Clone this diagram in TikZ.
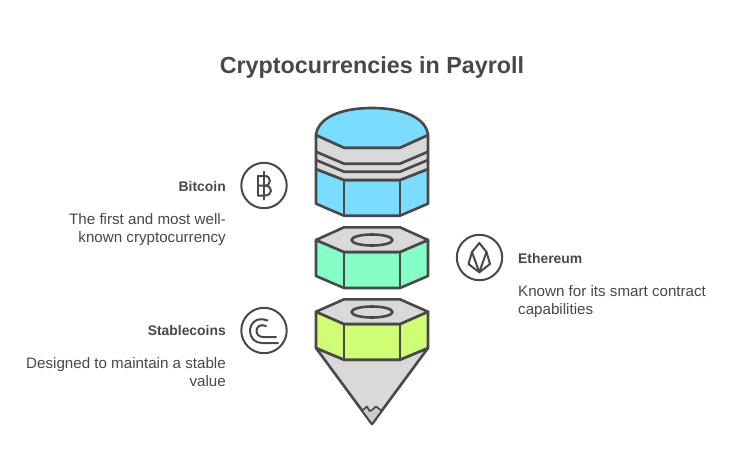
\documentclass[tikz,border=0pt]{standalone}
\usepackage{fontspec}
\setmainfont{Liberation Sans}
\definecolor{ink}{HTML}{484848}
\definecolor{blueF}{HTML}{7ADCFF}
\definecolor{mintF}{HTML}{84FDC6}
\definecolor{limeF}{HTML}{CFFD74}
\definecolor{grayF}{HTML}{D9D9D9}
\tikzset{
 part/.style={draw=ink,line width=2.6pt,line join=round},
 icon/.style={draw=ink,line width=2pt,line cap=round,line join=round},
 head/.style={font=\fontsize{13.9}{17}\selectfont\bfseries,text=ink,inner sep=0pt},
 body/.style={font=\fontsize{15.15}{18}\selectfont,text=ink,inner sep=0pt},
 ttl/.style={font=\fontsize{23.3}{28}\selectfont\bfseries,text=ink,inner sep=0pt}
}
\begin{document}
\begin{tikzpicture}[x=1pt,y=-1pt]
\useasboundingbox (0,0) rectangle (744,472);
\fill[white] (0,0) rectangle (744,472);
\node[ttl] (title) at (372,67) {Cryptocurrencies in Payroll};
% top cylinder
\path[part,fill=blueF] (316,169) -- (344,180) -- (400,180) -- (428,169) -- (428,203.7) -- (400,215.7) -- (344,215.7) -- (316,203.7) -- cycle;
\draw[part] (344,180) -- (344,215.7) (400,180) -- (400,215.7);
\path[part,fill=grayF] (316,135) -- (344,147.7) -- (400,147.7) -- (428,135) -- (428,169) -- (400,180) -- (344,180) -- (316,169) -- cycle;
\draw[part] (316,151.7) -- (344,163.7) -- (400,163.7) -- (428,151.7);
\draw[part] (316,160) -- (344,171.7) -- (400,171.7) -- (428,160);
\path[part,fill=blueF] (316,135) .. controls (318,118) and (340,108) .. (372,108) .. controls (404,108) and (426,118) .. (428,135) -- (400,147.7) -- (344,147.7) -- cycle;
% middle nut
\path[part,fill=mintF] (316,240) -- (344,252) -- (400,252) -- (428,240) -- (428,276) -- (400,288) -- (344,288) -- (316,276) -- cycle;
\draw[part] (344,252) -- (344,288) (400,252) -- (400,288);
\path[part,fill=grayF] (316,240) -- (344,227.3) -- (400,227.3) -- (428,240) -- (400,252) -- (344,252) -- cycle;
\draw[part] (372,240) ellipse [x radius=20.5,y radius=5.5];
% cone
\path[part,fill=grayF] (316,348) -- (344,359.7) -- (400,359.7) -- (428,348) -- (372,424) -- cycle;
\path[draw=ink,line width=1.7pt,line join=round,fill=black!20] (362,410.7) -- (367,406.5) -- (369.5,411) -- (372,410) -- (376,406.5) -- (381.7,410.7) -- (372,424) -- cycle;
% lower nut
\path[part,fill=limeF] (316,311.7) -- (344,324) -- (400,324) -- (428,311.7) -- (428,348) -- (400,359.7) -- (344,359.7) -- (316,348) -- cycle;
\draw[part] (344,324) -- (344,359.7) (400,324) -- (400,359.7);
\path[part,fill=grayF] (316,311.7) -- (344,299.3) -- (400,299.3) -- (428,311.7) -- (400,324) -- (344,324) -- cycle;
\draw[part] (372,312) ellipse [x radius=20.5,y radius=5.5];
% icons
\draw[icon] (264,185.5) circle (22.7);
\draw[icon] (263.5,171.5) -- (263.5,199.5);
\draw[icon] (258,176) -- (258,195.5);
\draw[icon] (258,176) -- (265,176) .. controls (271.5,176) and (271.5,185.7) .. (265,185.7) -- (258,185.7);
\draw[icon] (265,185.7) .. controls (273,185.7) and (273,195.5) .. (265,195.5) -- (258,195.5);
\draw[icon] (479.5,257.5) circle (22.7);
\draw[icon] (479.3,243) -- (472,252) -- (468.5,264) -- (479.3,272.3) -- (490,264) -- (486.5,252) -- cycle;
\draw[icon] (472,252) -- (479.3,272.3) -- (486.5,252);
\draw[icon] (264,330.5) circle (22.7);
\draw[icon] (267.5,320.5) .. controls (256,316) and (250,324) .. (250,331) .. controls (250,338) and (255,343) .. (262,343) -- (278,343);
\draw[icon] (266,326) .. controls (260,323.5) and (256.5,327) .. (256.5,331) .. controls (256.5,334) and (259,337) .. (263,337) -- (276,337);
% labels
\node[head,anchor=east] (lab1) at (226,186.5) {Bitcoin};
\node[body,anchor=north east,align=right] (desc1) at (226,213) {The first and most well-\\known cryptocurrency};
\node[head,anchor=west] (lab2) at (518,258.5) {Ethereum};
\node[body,anchor=north west,align=left] (desc2) at (518,285) {Known for its smart contract\\capabilities};
\node[head,anchor=east] (lab3) at (226,330.5) {Stablecoins};
\node[body,anchor=north east,align=right] (desc3) at (226,357) {Designed to maintain a stable\\value};
\end{tikzpicture}
\end{document}
